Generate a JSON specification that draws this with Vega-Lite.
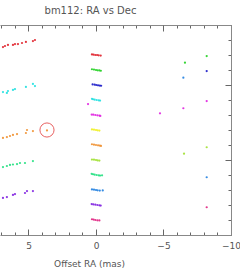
{
  "$schema": "https://vega.github.io/schema/vega-lite/v6.json",
  "width": 231,
  "height": 210,
  "autosize": {"type": "none"},
  "padding": {"left": 0, "top": 25, "right": 9, "bottom": 33},
  "background": "white",
  "view": {"stroke": null},
  "title": {"text": "bm112: RA vs Dec", "fontSize": 10, "font": "DejaVu Sans", "fontWeight": "normal", "color": "#555555", "anchor": "middle", "dx": -25, "offset": 9},
  "config": {
    "axis": {"domainColor": "#888888", "tickColor": "#666666", "labelColor": "#555555", "titleColor": "#555555", "labelFont": "DejaVu Sans", "titleFont": "DejaVu Sans", "labelFontSize": 9, "titleFontSize": 9, "titleFontWeight": "normal", "grid": false, "labelOverlap": false}
  },
  "datasets": {
    "pts": [
      {"ra": 0.30, "dec": 12.04, "c": "r"}, {"ra": 0.18, "dec": 12.02, "c": "r"}, {"ra": 0.05, "dec": 12.0, "c": "r"}, {"ra": -0.08, "dec": 12.0, "c": "r"}, {"ra": -0.2, "dec": 11.98, "c": "r"}, {"ra": -0.35, "dec": 11.96, "c": "r"},
      {"ra": 0.30, "dec": 11.05, "c": "g"}, {"ra": 0.15, "dec": 11.03, "c": "g"}, {"ra": 0.0, "dec": 11.0, "c": "g"}, {"ra": -0.12, "dec": 10.98, "c": "g"}, {"ra": -0.25, "dec": 10.97, "c": "g"}, {"ra": -0.36, "dec": 10.95, "c": "g"},
      {"ra": 0.25, "dec": 10.04, "c": "b"}, {"ra": 0.10, "dec": 10.02, "c": "b"}, {"ra": -0.02, "dec": 10.0, "c": "b"}, {"ra": -0.15, "dec": 9.98, "c": "b"}, {"ra": -0.28, "dec": 9.96, "c": "b"}, {"ra": -0.38, "dec": 9.95, "c": "b"},
      {"ra": 0.30, "dec": 9.08, "c": "cy"}, {"ra": 0.22, "dec": 9.05, "c": "cy"}, {"ra": 0.10, "dec": 9.02, "c": "cy"}, {"ra": -0.05, "dec": 9.0, "c": "cy"}, {"ra": -0.2, "dec": 8.98, "c": "cy"}, {"ra": -0.3, "dec": 8.96, "c": "cy"},
      {"ra": 0.32, "dec": 8.03, "c": "m"}, {"ra": 0.20, "dec": 8.02, "c": "m"}, {"ra": 0.05, "dec": 8.0, "c": "m"}, {"ra": -0.1, "dec": 7.98, "c": "m"}, {"ra": -0.25, "dec": 7.96, "c": "m"}, {"ra": -0.32, "dec": 7.94, "c": "m"}, {"ra": 0.59, "dec": 8.73, "c": "m"},
      {"ra": 0.30, "dec": 7.04, "c": "y"}, {"ra": 0.15, "dec": 7.02, "c": "y"}, {"ra": 0.0, "dec": 7.0, "c": "y"}, {"ra": -0.12, "dec": 6.98, "c": "y"}, {"ra": -0.25, "dec": 6.96, "c": "y"},
      {"ra": 0.30, "dec": 6.05, "c": "o"}, {"ra": 0.15, "dec": 6.02, "c": "o"}, {"ra": 0.0, "dec": 6.0, "c": "o"}, {"ra": -0.15, "dec": 5.98, "c": "o"}, {"ra": -0.28, "dec": 5.96, "c": "o"}, {"ra": -0.37, "dec": 5.94, "c": "o"},
      {"ra": 0.30, "dec": 5.03, "c": "yg"}, {"ra": 0.15, "dec": 5.02, "c": "yg"}, {"ra": 0.0, "dec": 5.0, "c": "yg"}, {"ra": -0.12, "dec": 4.97, "c": "yg"}, {"ra": -0.25, "dec": 4.96, "c": "yg"},
      {"ra": 0.32, "dec": 4.08, "c": "sg"}, {"ra": 0.22, "dec": 4.05, "c": "sg"}, {"ra": 0.10, "dec": 4.02, "c": "sg"}, {"ra": -0.05, "dec": 4.0, "c": "sg"}, {"ra": -0.2, "dec": 3.98, "c": "sg"}, {"ra": -0.3, "dec": 3.96, "c": "sg"}, {"ra": -0.45, "dec": 3.98, "c": "sg"},
      {"ra": 0.30, "dec": 3.04, "c": "az"}, {"ra": 0.15, "dec": 3.02, "c": "az"}, {"ra": 0.0, "dec": 3.0, "c": "az"}, {"ra": -0.12, "dec": 2.98, "c": "az"}, {"ra": -0.28, "dec": 2.96, "c": "az"}, {"ra": -0.5, "dec": 2.97, "c": "az"},
      {"ra": 0.32, "dec": 2.06, "c": "vi"}, {"ra": 0.20, "dec": 2.04, "c": "vi"}, {"ra": 0.05, "dec": 2.02, "c": "vi"}, {"ra": -0.1, "dec": 2.0, "c": "vi"}, {"ra": -0.25, "dec": 1.98, "c": "vi"}, {"ra": -0.35, "dec": 1.96, "c": "vi"},
      {"ra": 0.30, "dec": 1.05, "c": "ro"}, {"ra": 0.18, "dec": 1.03, "c": "ro"}, {"ra": 0.05, "dec": 1.0, "c": "ro"}, {"ra": -0.1, "dec": 0.98, "c": "ro"}, {"ra": -0.25, "dec": 0.97, "c": "ro"},
      {"ra": 6.89, "dec": 12.53, "c": "r"}, {"ra": 6.74, "dec": 12.6, "c": "r"}, {"ra": 6.52, "dec": 12.67, "c": "r"}, {"ra": 6.15, "dec": 12.67, "c": "r"}, {"ra": 6.0, "dec": 12.73, "c": "r"}, {"ra": 5.78, "dec": 12.73, "c": "r"}, {"ra": 5.48, "dec": 12.8, "c": "r"}, {"ra": 5.19, "dec": 12.87, "c": "r"}, {"ra": 4.67, "dec": 12.93, "c": "r"}, {"ra": 4.52, "dec": 13.0, "c": "r"},
      {"ra": 6.89, "dec": 9.53, "c": "cy"}, {"ra": 6.6, "dec": 9.47, "c": "cy"}, {"ra": 6.52, "dec": 9.6, "c": "cy"}, {"ra": 6.15, "dec": 9.67, "c": "cy"}, {"ra": 6.0, "dec": 9.73, "c": "cy"}, {"ra": 5.19, "dec": 9.87, "c": "cy"}, {"ra": 4.67, "dec": 10.07, "c": "cy"}, {"ra": 4.52, "dec": 9.93, "c": "cy"},
      {"ra": 6.89, "dec": 6.47, "c": "o"}, {"ra": 6.6, "dec": 6.53, "c": "o"}, {"ra": 6.37, "dec": 6.6, "c": "o"}, {"ra": 6.15, "dec": 6.67, "c": "o"}, {"ra": 5.85, "dec": 6.73, "c": "o"}, {"ra": 5.19, "dec": 6.8, "c": "o"}, {"ra": 5.11, "dec": 7.0, "c": "o"}, {"ra": 4.67, "dec": 6.93, "c": "o"}, {"ra": 3.63, "dec": 6.97, "c": "o"},
      {"ra": 6.89, "dec": 4.53, "c": "sg"}, {"ra": 6.6, "dec": 4.6, "c": "sg"}, {"ra": 6.37, "dec": 4.67, "c": "sg"}, {"ra": 6.15, "dec": 4.7, "c": "sg"}, {"ra": 5.85, "dec": 4.73, "c": "sg"}, {"ra": 5.63, "dec": 4.8, "c": "sg"}, {"ra": 5.26, "dec": 4.8, "c": "sg"}, {"ra": 4.67, "dec": 4.93, "c": "sg"},
      {"ra": 6.89, "dec": 2.47, "c": "vi"}, {"ra": 6.6, "dec": 2.53, "c": "vi"}, {"ra": 6.15, "dec": 2.67, "c": "vi"}, {"ra": 6.0, "dec": 2.73, "c": "vi"}, {"ra": 5.26, "dec": 2.8, "c": "vi"}, {"ra": 5.11, "dec": 2.93, "c": "vi"}, {"ra": 4.67, "dec": 2.93, "c": "vi"},
      {"ra": -8.2, "dec": 11.93, "c": "g"}, {"ra": -6.59, "dec": 11.49, "c": "g"}, {"ra": -8.2, "dec": 10.93, "c": "b"}, {"ra": -6.47, "dec": 10.49, "c": "az"}, {"ra": -8.2, "dec": 8.93, "c": "m"}, {"ra": -6.47, "dec": 8.45, "c": "m"}, {"ra": -4.74, "dec": 8.11, "c": "m"},
      {"ra": -8.2, "dec": 5.85, "c": "yg"}, {"ra": -6.52, "dec": 5.42, "c": "yg"}, {"ra": -8.2, "dec": 3.85, "c": "az"}, {"ra": -8.2, "dec": 1.85, "c": "ro"}
    ],
    "mark": [{"ra": 3.63, "dec": 7.0}]
  },
  "layer": [
    {
      "data": {"name": "pts"},
      "mark": {"type": "point", "filled": true, "size": 5, "opacity": 0.9},
      "encoding": {
        "x": {"field": "ra", "type": "quantitative", "scale": {"domain": [7.11, -10], "nice": false, "zero": false},
          "axis": {"orient": "bottom", "title": "Offset RA (mas)", "tickCount": 17, "tickSize": -3,
            "labelExpr": "datum.value % 5 === 0 ? datum.label : ''", "labelPadding": 9, "labelFlush": false,
            "titleX": 89, "titleY": 28, "titleAnchor": "middle", "titleBaseline": "middle"}},
        "y": {"field": "dec", "type": "quantitative", "scale": {"domain": [0, 14], "nice": false, "zero": false},
          "axis": {"orient": "right", "title": null, "labels": false, "values": [1,2,3,4,5,6,7,8,9,10,11,12,13], "tickSize": -3}},
        "color": {"field": "c", "type": "nominal", "legend": null,
          "scale": {"domain": ["r","g","b","cy","m","y","o","yg","sg","az","vi","ro"],
            "range": ["#e0202a","#20d020","#1818c8","#20e0e0","#e020e0","#f0f020","#f09030","#a0e030","#20e080","#2080e0","#8020e0","#e02080"]}}
      }
    },
    {
      "data": {"name": "mark"},
      "mark": {"type": "point", "filled": false, "size": 200, "color": "#e02020", "strokeWidth": 1},
      "encoding": {
        "x": {"field": "ra", "type": "quantitative", "axis": {"orient": "top", "title": null, "labels": false, "tickCount": 17, "tickSize": -3}},
        "y": {"field": "dec", "type": "quantitative", "axis": {"orient": "left", "title": null, "labels": false, "values": [5, 10], "tickSize": 6, "domain": false, "offset": -231}}
      }
    },
    {
      "data": {"name": "mark"},
      "mark": {"type": "point", "opacity": 0},
      "encoding": {
        "x": {"field": "ra", "type": "quantitative", "axis": {"orient": "top", "title": null, "labels": false, "values": [5, 0, -5, -10], "tickSize": -6, "domain": false, "offset": 0}},
        "y": {"field": "dec", "type": "quantitative", "axis": null}
      }
    },
    {
      "data": {"name": "mark"},
      "mark": {"type": "point", "opacity": 0},
      "encoding": {
        "x": {"field": "ra", "type": "quantitative", "axis": {"orient": "bottom", "title": null, "labels": false, "values": [5, 0, -5, -10], "tickSize": -6, "domain": false, "offset": 0}},
        "y": {"field": "dec", "type": "quantitative", "axis": null}
      }
    }
  ],
  "resolve": {"axis": {"x": "independent", "y": "independent"}}
}
